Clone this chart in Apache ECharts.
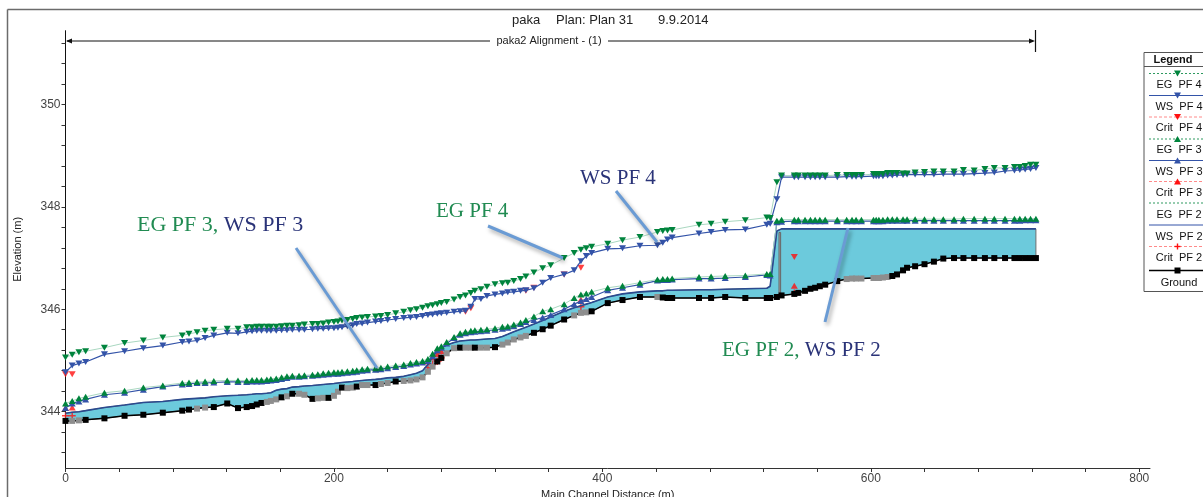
<!DOCTYPE html>
<html>
<head>
<meta charset="utf-8">
<title>paka Plan 31</title>
<script src="https://cdn.jsdelivr.net/npm/echarts@6/dist/echarts.min.js"></script>
<style>
html,body{margin:0;padding:0;background:#fff;}
#chart{width:1203px;height:497px;}
</style>
</head>
<body>
<div id="chart"></div>
<script>
// cross section stations (m) along main channel
var stations = [0,5,10,15,29,44,58,72.5,87,92,
  98,104,110.5,120.5,128.5,135,139,142.5,146,150,
  153,157,161,165,169,174,178,184,188,192,
  196,200,203,206,210,214,217,221,225,231,
  235,240,246,252,257,261.5,266,270,273.5,277,
  280,284,289.5,294,298,302,305,309.5,314,320,
  325.5,329.5,334,339,343,349,355.5,361.5,371.5,379,
  384,388,392,404,415,428,441,445,448.5,452,
  472,481,491.5,506.5,522.5,525,530,533.5,543,546,
  551,555,558.5,562,566,575,582,586,589,593,
  602,604,606,609,612.5,616,619.5,624,627,633,
  640,647,654,662,669,677,685,692,700,707,
  711,715,719,723];

var ground = [343.82,343.82,343.83,343.84,343.87,343.92,343.94,343.98,344.02,344.04,
  344.06,344.08,344.09,344.16,344.07,344.09,344.11,344.14,344.17,344.19,
  344.21,344.24,344.28,344.30,344.35,344.35,344.33,344.25,344.26,344.27,
  344.27,344.31,344.39,344.47,344.46,344.47,344.49,344.52,344.52,344.52,
  344.54,344.56,344.59,344.60,344.61,344.63,344.67,344.78,344.88,344.98,
  345.05,345.14,345.24,345.25,345.25,345.25,345.25,345.25,345.25,345.26,
  345.31,345.35,345.41,345.45,345.48,345.54,345.61,345.68,345.80,345.88,
  345.93,345.94,345.96,346.12,346.18,346.24,346.24,346.23,346.22,346.22,
  346.22,346.22,346.24,346.22,346.22,346.22,346.24,346.27,346.30,346.32,
  346.36,346.40,346.42,346.45,346.48,346.55,346.59,346.60,346.60,346.60,
  346.61,346.61,346.61,346.62,346.63,346.65,346.68,346.76,346.81,346.84,
  346.88,346.93,346.99,347.00,347.00,347.00,347.00,347.00,347.00,347.00,
  347.00,347.00,347.00,347.00];

// interpolated sections (grey squares)
var interpStations = [5,10,98,104,150,153,157,165,174,178,188,192,200,203,210,214,221,225,
  235,240,252,257,261.5,266,270,273.5,284,289.5,298,302,309.5,314,325.5,329.5,334,339,343,
  379,384,388,441,582,586,589,593,602,604,606,609,612.5];

var wsPF2 = [343.97,343.99,344.00,344.02,344.08,344.13,344.18,344.20,344.24,344.25,
  344.26,344.27,344.29,344.31,344.32,344.33,344.34,344.35,344.35,344.36,
  344.37,344.42,344.44,344.45,344.48,344.49,344.50,344.51,344.52,344.53,
  344.54,344.55,344.56,344.57,344.58,344.59,344.60,344.61,344.62,344.63,
  344.64,344.66,344.67,344.69,344.72,344.75,344.80,344.92,345.08,345.18,
  345.24,345.30,345.35,345.38,345.39,345.40,345.40,345.41,345.42,345.43,
  345.47,345.51,345.56,345.61,345.65,345.71,345.78,345.85,345.96,346.03,
  346.07,346.10,346.13,346.24,346.30,346.34,346.36,346.36,346.37,346.37,
  346.38,346.38,346.39,346.40,346.41,346.45,347.53,347.57,347.57,347.57,
  347.57,347.57,347.57,347.57,347.57,347.57,347.57,347.57,347.57,347.57,
  347.57,347.57,347.57,347.57,347.57,347.57,347.57,347.57,347.57,347.57,
  347.57,347.57,347.57,347.57,347.57,347.57,347.57,347.57,347.57,347.57,
  347.57,347.57,347.57,347.57];

var egPF3 = [344.16,344.21,344.26,344.29,344.37,344.41,344.47,344.51,344.56,344.57,
  344.58,344.59,344.60,344.61,344.61,344.61,344.62,344.62,344.62,344.63,
  344.64,344.65,344.67,344.69,344.70,344.70,344.71,344.72,344.73,344.75,
  344.76,344.77,344.77,344.78,344.79,344.80,344.81,344.83,344.84,344.85,
  344.86,344.88,344.90,344.92,344.95,344.97,344.99,345.03,345.13,345.24,
  345.28,345.36,345.46,345.53,345.56,345.58,345.59,345.60,345.61,345.63,
  345.66,345.67,345.70,345.74,345.79,345.86,345.96,346.00,346.10,346.22,
  346.29,346.31,346.34,346.42,346.46,346.52,346.58,346.59,346.59,346.60,
  346.63,346.64,346.65,346.66,346.69,346.69,347.73,347.75,347.75,347.75,
  347.75,347.75,347.75,347.75,347.75,347.75,347.75,347.75,347.75,347.75,
  347.75,347.75,347.75,347.75,347.76,347.76,347.76,347.76,347.76,347.76,
  347.76,347.76,347.76,347.76,347.77,347.77,347.77,347.77,347.77,347.77,
  347.77,347.77,347.77,347.77];

var wsPF3 = [344.07,344.16,344.20,344.24,344.33,344.37,344.43,344.49,344.53,344.54,
  344.56,344.56,344.57,344.58,344.58,344.58,344.59,344.59,344.59,344.60,
  344.61,344.62,344.64,344.66,344.68,344.68,344.69,344.70,344.71,344.72,
  344.73,344.74,344.74,344.75,344.76,344.77,344.78,344.80,344.81,344.82,
  344.83,344.85,344.87,344.89,344.92,344.94,344.96,344.99,345.08,345.20,
  345.25,345.33,345.44,345.50,345.53,345.55,345.56,345.57,345.58,345.60,
  345.62,345.64,345.67,345.71,345.75,345.79,345.84,345.89,346.00,346.10,
  346.16,346.20,346.24,346.37,346.42,346.48,346.56,346.57,346.57,346.58,
  346.60,346.60,346.61,346.63,346.67,346.66,347.70,347.71,347.72,347.72,
  347.72,347.72,347.72,347.72,347.72,347.72,347.72,347.72,347.72,347.72,
  347.72,347.72,347.72,347.72,347.73,347.73,347.73,347.73,347.73,347.73,
  347.73,347.73,347.73,347.73,347.73,347.73,347.73,347.73,347.73,347.73,
  347.73,347.74,347.74,347.74];

var egPF4 = [345.06,345.11,345.16,345.18,345.25,345.34,345.39,345.45,345.49,345.52,
  345.55,345.58,345.60,345.62,345.62,345.65,345.65,345.66,345.66,345.66,
  345.66,345.66,345.67,345.68,345.68,345.69,345.70,345.71,345.71,345.72,
  345.74,345.75,345.76,345.78,345.79,345.81,345.83,345.84,345.85,345.86,
  345.87,345.89,345.92,345.95,345.98,346.00,346.03,346.06,346.08,346.10,
  346.12,346.14,346.19,346.24,346.27,346.32,346.36,346.39,346.44,346.49,
  346.51,346.52,346.55,346.59,346.64,346.72,346.80,346.86,347.00,347.10,
  347.16,347.19,347.22,347.28,347.35,347.41,347.51,347.53,347.54,347.55,
  347.65,347.67,347.71,347.74,347.79,347.78,348.48,348.61,348.61,348.61,
  348.61,348.61,348.61,348.61,348.61,348.62,348.62,348.62,348.62,348.62,
  348.64,348.64,348.64,348.64,348.66,348.66,348.66,348.65,348.65,348.67,
  348.68,348.69,348.69,348.69,348.72,348.71,348.74,348.76,348.76,348.78,
  348.78,348.80,348.82,348.82];

var wsPF4 = [344.77,344.90,344.94,344.97,345.12,345.18,345.24,345.29,345.36,345.37,
  345.39,345.44,345.49,345.54,345.53,345.56,345.57,345.58,345.58,345.58,
  345.58,345.58,345.59,345.59,345.60,345.60,345.60,345.61,345.62,345.62,
  345.63,345.63,345.64,345.65,345.67,345.69,345.71,345.72,345.74,345.76,
  345.77,345.79,345.81,345.83,345.84,345.85,345.87,345.89,345.90,345.91,
  345.92,345.93,345.95,345.96,345.97,346.05,346.20,346.20,346.26,346.29,
  346.31,346.33,346.34,346.36,346.37,346.41,346.52,346.61,346.68,346.76,
  346.94,347.04,347.10,347.18,347.19,347.24,347.25,347.30,347.36,347.40,
  347.48,347.51,347.55,347.56,347.65,347.67,348.15,348.58,348.58,348.58,
  348.58,348.58,348.58,348.58,348.58,348.58,348.59,348.59,348.59,348.59,
  348.60,348.60,348.60,348.60,348.61,348.61,348.62,348.62,348.63,348.63,
  348.63,348.63,348.64,348.64,348.64,348.65,348.66,348.67,348.70,348.71,
  348.72,348.73,348.74,348.76];

// critical depth, only where computed
var critPF4Stations = [0, 5, 298, 302, 343, 349, 371.5, 384, 543];
var critPF4 = [344.73, 344.73, 345.95, 346.02, 346.36, 346.42, 346.68, 346.81, 347.02];
var critPF3Stations = [0, 5, 270, 273.5, 277, 280, 384, 543];
var critPF3 = [344.07, 344.08, 344.98, 345.06, 345.12, 345.18, 346.19, 346.46];
var critPF2Stations = [0, 5, 270, 273.5, 277, 280, 384, 543];
var critPF2 = [343.92, 343.92, 344.86, 344.92, 344.98, 345.05, 346.05, 346.32];

// inline structure
var weirStations = [531.6, 532.8];
var weirElev = [346.25, 347.50];

var xTickLabels = [0, 200, 400, 600, 800];
var yTickLabels = [344, 346, 348, 350];
var legendNames = ['EG  PF 4', 'WS  PF 4', 'Crit  PF 4', 'EG  PF 3', 'WS  PF 3', 'Crit  PF 3',
  'EG  PF 2', 'WS  PF 2', 'Crit  PF 2', 'Ground'];

var xTicks = [];
for (var t = 0; t <= 800; t += 40) xTicks.push(t);
var yTicks = [];
for (var k = 0; k <= 20; k++) yTicks.push(+(343.2 + k * 0.4).toFixed(1));

var GREEN = '#00843d', PALE = '#a9d7c0', BLUE = '#3353a8', RED = '#ff1010', NAVY = '#2b4a8f';
var FONT = 'Liberation Sans, Arial, sans-serif';
var SERIF = 'Liberation Serif, Times New Roman, serif';
var PLUS = 'path://M-1,-5L1,-5L1,-1L5,-1L5,1L1,1L1,5L-1,5L-1,1L-5,1L-5,-1L-1,-1Z';

function pairs(xs, ys) {
  var out = [];
  for (var i = 0; i < xs.length; i++) out.push([xs[i], ys[i]]);
  return out;
}

var groundData = stations.map(function (s, i) {
  var grey = interpStations.indexOf(s) >= 0;
  return { value: [s, ground[i]], itemStyle: { color: grey ? '#8e8e8e' : '#000' } };
});

var chart = echarts.init(document.getElementById('chart'));

// legend drawn by hand (line sample above label, like the original)
var lgKinds = ['eg', 'ws', 'crit', 'eg', 'ws', 'crit', 'eg', 'ws', 'crit', 'ground'];
var lgMarks = ['down', 'down', 'down', 'up', 'up', 'up', '', '', 'plus', 'square'];
var lgLineY = [73.5, 95.5, 117, 139, 160.5, 181.5, 203, 225, 246.5, 270.5];
var lgTextY = [85, 106.5, 128, 150, 171.5, 193, 214.5, 236.5, 258, 283];

function legendGraphics() {
  var g = [];
  g.push({ type: 'rect', shape: { x: 1144, y: 52.5, width: 80, height: 239 },
    style: { fill: '#fff', stroke: '#555', lineWidth: 1 }, z: 100 });
  g.push({ type: 'line', shape: { x1: 1144, y1: 66.5, x2: 1210, y2: 66.5 },
    style: { stroke: '#555', lineWidth: 1 }, z: 101 });
  g.push({ type: 'text', x: 1173, y: 59.5, z: 101,
    style: { text: 'Legend', font: 'bold 11px ' + FONT, fill: '#111', align: 'center', verticalAlign: 'middle' } });
  for (var i = 0; i < legendNames.length; i++) {
    var y = lgLineY[i], kind = lgKinds[i], col, lc, dash = null, lw = 1;
    if (kind === 'eg') { col = GREEN; lc = '#2e9a60'; dash = [2, 2]; }
    else if (kind === 'ws') { col = BLUE; lc = BLUE; }
    else if (kind === 'crit') { col = RED; lc = '#ff8a8a'; dash = [3, 2]; }
    else { col = '#000'; lc = '#000'; lw = 1.5; }
    g.push({ type: 'line', shape: { x1: 1149, y1: y, x2: 1210, y2: y },
      style: { stroke: lc, lineWidth: lw, lineDash: dash }, z: 101 });
    var m = lgMarks[i], cx = 1177.5;
    if (m === 'down') g.push({ type: 'polygon', shape: { points: [[cx - 3.5, y - 3], [cx + 3.5, y - 3], [cx, y + 3]] }, style: { fill: col }, z: 102 });
    if (m === 'up') g.push({ type: 'polygon', shape: { points: [[cx - 3.5, y + 3], [cx + 3.5, y + 3], [cx, y - 3]] }, style: { fill: col }, z: 102 });
    if (m === 'square') g.push({ type: 'rect', shape: { x: cx - 3, y: y - 3, width: 6, height: 6 }, style: { fill: col }, z: 102 });
    if (m === 'plus') {
      g.push({ type: 'rect', shape: { x: cx - 3, y: y - 0.7, width: 6, height: 1.4 }, style: { fill: col }, z: 102 });
      g.push({ type: 'rect', shape: { x: cx - 0.7, y: y - 3, width: 1.4, height: 6 }, style: { fill: col }, z: 102 });
    }
    g.push({ type: 'text', x: 1179, y: lgTextY[i], z: 101,
      style: { text: legendNames[i], font: '11px ' + FONT, fill: '#111', align: 'center', verticalAlign: 'middle' } });
  }
  return g;
}

function callout(x1, y1, x2, y2) {
  return { type: 'line', shape: { x1: x1, y1: y1, x2: x2, y2: y2 }, z: 90,
    style: { stroke: '#6a9bd4', lineWidth: 3, shadowBlur: 4, shadowColor: 'rgba(0,0,0,0.35)', shadowOffsetX: 2, shadowOffsetY: 3 } };
}

function annot(x, y, a, b, size) {
  var f = size + 'px ' + SERIF;
  return { type: 'text', x: x, y: y, z: 91,
    style: { text: '{g|' + a + '}' + (b ? '{n|' + b + '}' : ''), verticalAlign: 'middle',
      rich: { g: { fill: '#218b52', font: f }, n: { fill: '#2a3378', font: f } } } };
}

var graphics = [
  // outer frame
  { type: 'line', shape: { x1: 7.5, y1: 9.5, x2: 1203, y2: 9.5 }, style: { stroke: '#6b6b6b', lineWidth: 1.5 } },
  { type: 'line', shape: { x1: 7.5, y1: 9.5, x2: 7.5, y2: 497 }, style: { stroke: '#6b6b6b', lineWidth: 1.5 } },
  // title
  { type: 'text', x: 512, y: 20, style: { text: 'paka', font: '13px ' + FONT, fill: '#222', verticalAlign: 'middle' } },
  { type: 'text', x: 556, y: 20, style: { text: 'Plan: Plan 31', font: '13px ' + FONT, fill: '#222', verticalAlign: 'middle' } },
  { type: 'text', x: 658, y: 20, style: { text: '9.9.2014', font: '13px ' + FONT, fill: '#222', verticalAlign: 'middle' } },
  // reach arrow
  { type: 'text', x: 549, y: 41, style: { text: 'paka2 Alignment - (1)', font: '11px ' + FONT, fill: '#222', align: 'center', verticalAlign: 'middle' } },
  { type: 'line', shape: { x1: 67, y1: 41, x2: 490, y2: 41 }, style: { stroke: '#111', lineWidth: 1 } },
  { type: 'line', shape: { x1: 608, y1: 41, x2: 1033, y2: 41 }, style: { stroke: '#111', lineWidth: 1 } },
  { type: 'polygon', shape: { points: [[66, 41], [72, 38.5], [72, 43.5]] }, style: { fill: '#111' } },
  { type: 'polygon', shape: { points: [[1035, 41], [1029, 38.5], [1029, 43.5]] }, style: { fill: '#111' } },
  { type: 'line', shape: { x1: 1035.5, y1: 30, x2: 1035.5, y2: 52 }, style: { stroke: '#111', lineWidth: 1.2 } },
  // callouts
  callout(296, 248, 377, 368),
  callout(488, 226, 563, 258),
  callout(616, 191, 657, 242),
  callout(848, 228, 825, 322),
  annot(137, 225, 'EG PF 3, ', 'WS PF 3', 22),
  annot(436, 211, 'EG PF 4', '', 21),
  { type: 'text', x: 580, y: 178, z: 91, style: { text: 'WS PF 4', font: '21px ' + SERIF, fill: '#2a3378', verticalAlign: 'middle' } },
  annot(722, 350, 'EG PF 2, ', 'WS PF 2', 21)
].concat(legendGraphics());

var option = {
  animation: false,
  textStyle: { fontFamily: FONT },
  grid: { left: 65.5, right: 53, top: 30.7, bottom: 29, outerBoundsMode: 'none', containLabel: false },
  xAxis: {
    type: 'value', min: 0, max: 808,
    name: 'Main Channel Distance (m)', nameLocation: 'middle', nameGap: 21,
    nameTextStyle: { fontSize: 11, color: '#222' },
    axisLine: { lineStyle: { color: '#333', width: 1 } },
    axisTick: { customValues: xTicks, length: 4, lineStyle: { color: '#333' } },
    axisLabel: { customValues: xTickLabels, fontSize: 12, color: '#444', margin: 5 },
    splitLine: { show: false }
  },
  yAxis: {
    type: 'value', min: 342.9, max: 351.44,
    name: 'Elevation (m)', nameLocation: 'middle', nameGap: 42, nameRotate: 90,
    nameTextStyle: { fontSize: 11, color: '#222' },
    axisLine: { show: true, lineStyle: { color: '#111', width: 1 } },
    axisTick: { customValues: yTicks, length: 4, lineStyle: { color: '#333' } },
    axisLabel: { customValues: yTickLabels, fontSize: 12, color: '#444', margin: 5 },
    splitLine: { show: false }
  },
  series: [
    {
      type: 'custom', silent: true, z: 1,
      data: [[stations[0], ground[0]]],
      renderItem: function (params, api) {
        var pts = [], i;
        for (i = 0; i < stations.length; i++) pts.push(api.coord([stations[i], ground[i]]));
        for (i = stations.length - 1; i >= 0; i--) pts.push(api.coord([stations[i], wsPF2[i]]));
        var a = api.coord([weirStations[0], weirElev[1]]);
        var b = api.coord([weirStations[1], weirElev[0]]);
        return {
          type: 'group',
          children: [
            { type: 'polygon', shape: { points: pts }, style: { fill: '#6ccadc', stroke: '#6f6f6f', lineWidth: 1 } },
            { type: 'rect', shape: { x: a[0], y: a[1], width: b[0] - a[0], height: b[1] - a[1] },
              style: { fill: '#a3a3a3', stroke: '#666', lineWidth: 1 } }
          ]
        };
      }
    },
    { name: 'WS PF 2', type: 'line', silent: true, data: pairs(stations, wsPF2), symbol: 'none',
      lineStyle: { color: NAVY, width: 1.6 } },
    { name: 'Ground', type: 'line', silent: true, data: groundData, symbol: 'rect', symbolSize: 6,
      lineStyle: { color: '#000', width: 1.5 }, itemStyle: { color: '#000' } },
    { name: 'WS PF 3', type: 'line', silent: true, data: pairs(stations, wsPF3), symbol: 'triangle', symbolSize: [7, 6],
      lineStyle: { color: BLUE, width: 1.2 }, itemStyle: { color: BLUE } },
    { name: 'EG PF 3', type: 'line', silent: true, data: pairs(stations, egPF3), symbol: 'triangle', symbolSize: [7, 6],
      lineStyle: { color: PALE, width: 1 }, itemStyle: { color: GREEN } },
    { name: 'WS PF 4', type: 'line', silent: true, data: pairs(stations, wsPF4), symbol: 'triangle', symbolRotate: 180, symbolSize: [7, 6],
      lineStyle: { color: BLUE, width: 1.2 }, itemStyle: { color: BLUE } },
    { name: 'EG PF 4', type: 'line', silent: true, data: pairs(stations, egPF4), symbol: 'triangle', symbolRotate: 180, symbolSize: [7, 6],
      lineStyle: { color: PALE, width: 1 }, itemStyle: { color: GREEN } },
    { name: 'Crit PF 4', type: 'scatter', silent: true, data: pairs(critPF4Stations, critPF4), symbol: 'triangle', symbolRotate: 180,
      symbolSize: [7, 6], itemStyle: { color: RED } },
    { name: 'Crit PF 3', type: 'scatter', silent: true, data: pairs(critPF3Stations, critPF3), symbol: 'triangle',
      symbolSize: [7, 6], itemStyle: { color: RED } },
    { name: 'Crit PF 2', type: 'scatter', silent: true, data: pairs(critPF2Stations, critPF2), symbol: PLUS,
      symbolSize: 7, itemStyle: { color: RED } }
  ],
  graphic: graphics
};

chart.setOption(option);
</script>
</body>
</html>
